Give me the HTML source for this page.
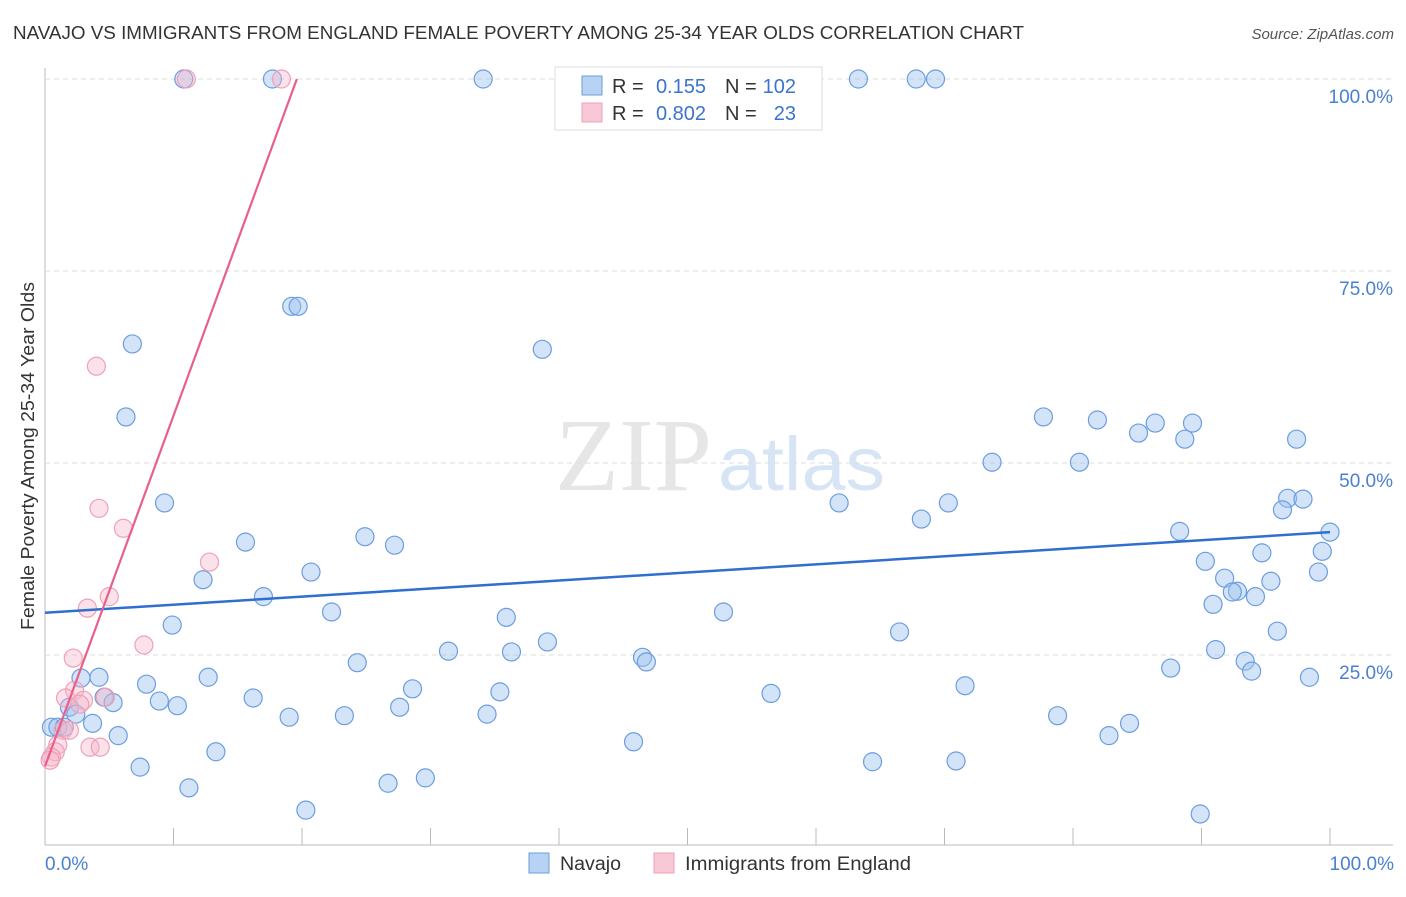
<!DOCTYPE html>
<html><head><meta charset="utf-8"><style>
body{margin:0;background:#fff;font-family:"Liberation Sans",sans-serif}
</style></head><body>
<svg id="chart" width="1406" height="892" xmlns="http://www.w3.org/2000/svg" font-family="Liberation Sans, sans-serif">
<text x="13" y="39" font-size="18" fill="#333" textLength="1011" lengthAdjust="spacingAndGlyphs">NAVAJO VS IMMIGRANTS FROM ENGLAND FEMALE POVERTY AMONG 25-34 YEAR OLDS CORRELATION CHART</text>
<text x="1394" y="39" font-size="15" fill="#555" text-anchor="end" font-style="italic">Source: ZipAtlas.com</text>
<text x="555" y="490" font-size="104" fill="#e6e6e6" font-family="Liberation Serif, serif" textLength="157" lengthAdjust="spacingAndGlyphs">ZIP</text>
<text x="718" y="490" font-size="76" fill="#d6e4f5" textLength="167" lengthAdjust="spacingAndGlyphs">atlas</text>
<g id="grid"></g><g id="marks"></g>
<text transform="translate(34,456) rotate(-90)" font-size="18" fill="#333" text-anchor="middle" textLength="348" lengthAdjust="spacingAndGlyphs">Female Poverty Among 25-34 Year Olds</text>
<text x="45" y="870" font-size="19" fill="#4a80d0">0.0%</text>
<text x="1394" y="870" font-size="19" fill="#4a80d0" text-anchor="end">100.0%</text>
<g>
<rect x="555" y="67" width="267" height="63" fill="#fff" stroke="#ddd"/>
<rect x="582" y="76" width="20" height="19" fill="#b8d2f4" stroke="#6b9de0"/>
<rect x="582" y="103" width="20" height="19" fill="#f8c8d6" stroke="#f0a0b8"/>
<text x="612" y="93" font-size="20" fill="#333">R =</text>
<text x="706" y="93" font-size="20" fill="#3a74d0" text-anchor="end">0.155</text>
<text x="725" y="93" font-size="20" fill="#333">N =</text>
<text x="796" y="93" font-size="20" fill="#3a74d0" text-anchor="end">102</text>
<text x="612" y="120" font-size="20" fill="#333">R =</text>
<text x="706" y="120" font-size="20" fill="#3a74d0" text-anchor="end">0.802</text>
<text x="725" y="120" font-size="20" fill="#333">N =</text>
<text x="796" y="120" font-size="20" fill="#3a74d0" text-anchor="end">23</text>
</g>
<g>
<rect x="529" y="853" width="20" height="20" fill="#b8d2f4" stroke="#6b9de0"/>
<text x="560" y="870" font-size="19" fill="#333" textLength="61" lengthAdjust="spacingAndGlyphs">Navajo</text>
<rect x="654" y="853" width="20" height="20" fill="#f8c8d6" stroke="#f0a0b8"/>
<text x="685" y="870" font-size="19" fill="#333" textLength="226" lengthAdjust="spacingAndGlyphs">Immigrants from England</text>
</g>
</svg>
<script>
const yTicks=[25,50,75,100];
const yTickLabels=["25.0%","50.0%","75.0%","100.0%"];
const xTicks=[0,10,20,30,40,50,60,70,80,90,100];
const navajoX=[10.8,17.7,34.1,40.5,63.3,67.8,69.3,19.2,19.7,6.8,38.7,6.3,77.7,81.9,86.4,89.3,85.1,88.7,97.4,73.7,80.5,9.3,61.8,70.3,96.7,97.9,96.3,68.2,88.3,100,15.6,24.9,27.2,90.3,94.7,99.4,20.7,99.1,12.3,91.8,95.4,92.8,92.4,94.2,17,90.9,22.3,52.8,35.9,9.9,66.5,95.9,39.1,31.4,36.3,46.5,46.8,91.1,93.4,93.9,87.6,24.3,98.4,4.2,2.8,12.7,7.9,28.6,71.6,35.4,56.5,16.2,4.6,8.9,5.3,10.3,1.9,27.6,2.4,19,23.3,34.4,78.8,3.7,84.4,0.5,1,1.5,5.7,82.8,45.8,13.3,7.4,64.4,70.9,29.6,26.7,11.2,20.3,89.9];
const navajoY=[100,100,100,100,100,100,100,70.4,70.4,65.5,64.8,56,56,55.6,55.2,55.2,53.9,53.1,53.1,50.1,50.1,44.8,44.8,44.8,45.4,45.3,43.9,42.7,41.1,41,39.7,40.4,39.3,37.2,38.3,38.5,35.8,35.8,34.8,35,34.6,33.3,33.2,32.6,32.6,31.6,30.6,30.6,29.9,28.9,28,28.1,26.7,25.5,25.4,24.7,24.1,25.7,24.2,22.9,23.3,24,22.1,22.1,22,22.1,21.2,20.6,21,20.2,20,19.4,19.5,19,18.8,18.4,18.2,18.2,17.3,16.9,17.1,17.3,17.1,16.1,16.1,15.6,15.6,15.6,14.5,14.5,13.7,12.4,10.4,11.1,11.2,9,8.3,7.7,4.8,4.3];
const engX=[11,18.4,4,4.2,6.1,12.8,5,3.3,7.7,2.2,2.3,1.6,3,4.7,2.7,1.4,1.9,3.5,4.3,1,0.8,0.5,0.4];
const engY=[100,100,62.6,44.1,41.5,37.1,32.6,31.1,26.3,24.6,20.4,19.4,19.1,19.5,18.6,15.2,15.2,13,13,13.3,12.4,11.7,11.3];
const navajoTrend=[30.5,41];
const engTrend=[10.5,100,19.6];
const X=v=>45+v*12.85, Y=v=>847-v*7.68;
const NS="http://www.w3.org/2000/svg";
const grid=document.getElementById('grid'), marks=document.getElementById('marks');
function mk(tag,attrs,parent){const e=document.createElementNS(NS,tag);for(const k in attrs)e.setAttribute(k,attrs[k]);parent.appendChild(e);return e;}
let ax=mk('line',{x1:45,y1:68,x2:45,y2:845,stroke:'#bbb'},grid);


let bx=mk('line',{x1:45,y1:845,x2:1393,y2:845,stroke:'#bbb'},grid);


yTicks.forEach((t,i)=>{
 const g=mk('line',{x1:45,y1:Y(t),x2:1393,y2:Y(t),stroke:'#ddd','stroke-dasharray':'5,4'},grid);
 
 
 const tx=mk('text',{x:1393,y:Y(t)+24,'font-size':19,fill:'#4a80d0','text-anchor':'end'},grid);
 tx.textContent=yTickLabels[i];
 
 
});
xTicks.forEach(t=>{
 const l=mk('line',{x1:X(t),y1:828,x2:X(t),y2:845,stroke:'#bbb'},grid);
 
 
});
navajoX.forEach((x,i)=>{
 const c=mk('circle',{cx:X(x),cy:Y(navajoY[i]),r:9,fill:'rgba(160,196,240,0.45)',stroke:'#6b9de0','stroke-width':1.2},marks);
 
 
});
engX.forEach((x,i)=>{
 const c=mk('circle',{cx:X(x),cy:Y(engY[i]),r:9,fill:'rgba(245,180,200,0.4)',stroke:'#f0a0b8','stroke-width':1.2},marks);
 
 
});
const bl=mk('line',{x1:X(0),y1:Y(navajoTrend[0]),x2:X(100),y2:Y(navajoTrend[1]),stroke:'#2f6fd0','stroke-width':2.5},marks);


const pl=mk('line',{x1:X(0),y1:Y(engTrend[0]),x2:X(engTrend[2]),y2:Y(engTrend[1]),stroke:'#e8608a','stroke-width':2.2},marks);


</script>
</body></html>
